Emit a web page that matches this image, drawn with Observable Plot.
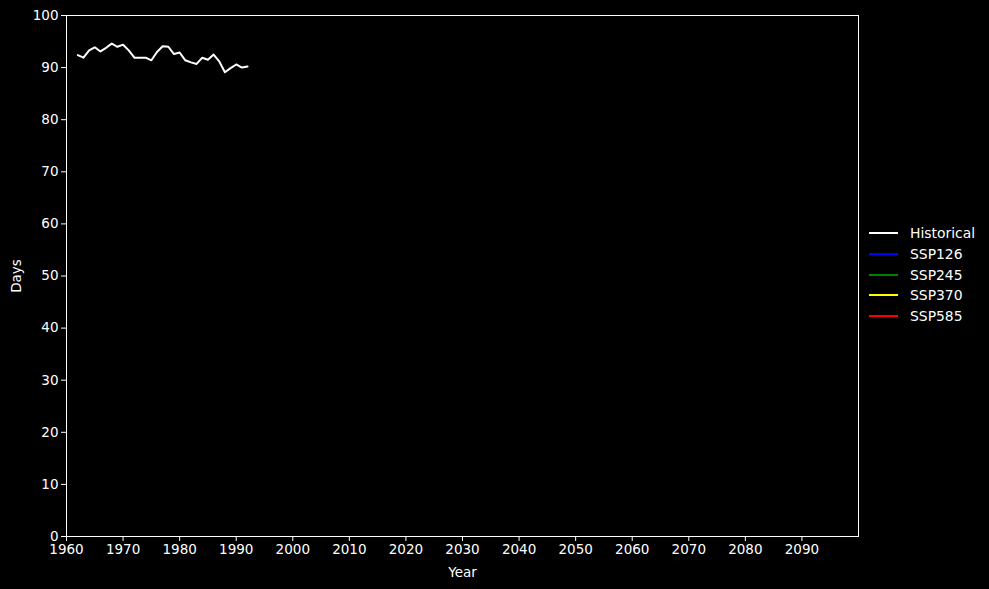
<!DOCTYPE html>
<html>
<head>
<meta charset="utf-8">
<script src="https://cdn.jsdelivr.net/npm/d3@7"></script>
<script src="https://cdn.jsdelivr.net/npm/@observablehq/plot@0.6"></script>
<style>
  html, body { margin: 0; padding: 0; background: #000; }
  #wrap { position: relative; width: 989px; height: 589px; }
  #legend { position: absolute; left: 869px; top: 223px; font: 13.9px "DejaVu Sans", sans-serif; color: #fff; }
  .row { display: flex; align-items: center; height: 20.7px; }
  .row svg { margin-right: 12px; }
</style>
</head>
<body>
<div id="wrap"><div id="legend"></div></div>
<script>
const years = d3.range(1962, 1993);
const historical = [92.4, 91.9, 93.3, 93.9, 93.1, 93.8, 94.6, 94.0, 94.4, 93.3,
  91.9, 91.9, 91.9, 91.4, 93.0, 94.1, 94.0, 92.6, 92.9, 91.4,
  91.0, 90.7, 91.9, 91.5, 92.5, 91.2, 89.1, 89.9, 90.6, 90.0, 90.2];
const seriesNames = ["Historical", "SSP126", "SSP245", "SSP370", "SSP585"];
const seriesColors = ["white", "blue", "green", "yellow", "red"];
const xTicks = d3.range(1960, 2100, 10);
const yTicks = d3.range(0, 101, 10);

const data = years.map((y, i) => ({year: y, value: historical[i], series: "Historical"}));

const chart = Plot.plot({
  width: 989,
  height: 589,
  marginLeft: 66,
  marginRight: 131,
  marginTop: 15,
  marginBottom: 53,
  style: {background: "#000", color: "#fff", fontFamily: "DejaVu Sans, sans-serif", fontSize: "13.5px"},
  x: {domain: [1960, 2100]},
  y: {domain: [0, 100]},
  color: {domain: seriesNames, range: seriesColors},
  marks: [
    Plot.frame({stroke: "white", strokeWidth: 1}),
    Plot.axisX({ticks: xTicks, tickFormat: d => String(d), tickSize: 5, tickPadding: 3, stroke: "white",
      label: "Year", labelArrow: false, labelAnchor: "center", labelOffset: 40, fontSize: 13.5}),
    Plot.axisY({ticks: yTicks, tickSize: 5, tickPadding: 3, stroke: "white",
      label: "Days", labelArrow: false, labelAnchor: "center", labelOffset: 55, fontSize: 13.5}),
    Plot.line(data, {x: "year", y: "value", stroke: "series", strokeWidth: 2})
  ]
});
document.getElementById("wrap").prepend(chart);
chart.style.display = "block";

const legend = document.getElementById("legend");
seriesNames.forEach((name, i) => {
  const row = document.createElement("div");
  row.className = "row";
  row.innerHTML = `<svg width="29" height="4"><line x1="0" x2="29" y1="2" y2="2" stroke="${seriesColors[i]}" stroke-width="2"/></svg><span>${name}</span>`;
  legend.appendChild(row);
});
</script>
</body>
</html>
